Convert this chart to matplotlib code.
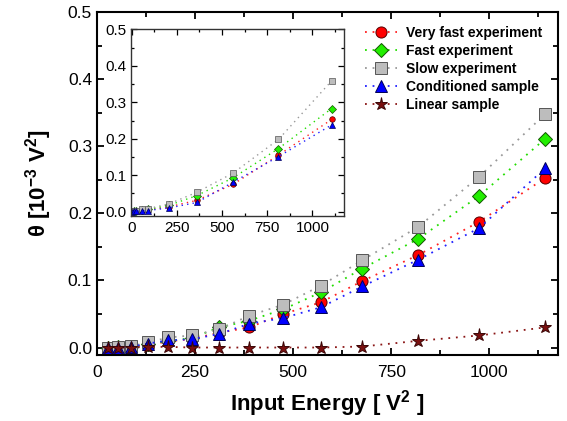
import matplotlib
matplotlib.use("Agg")
import matplotlib.pyplot as plt
from matplotlib.ticker import MultipleLocator

plt.rcParams['font.family'] = ['Liberation Sans', 'DejaVu Sans']
plt.rcParams['mathtext.fontset'] = 'custom'
plt.rcParams['mathtext.rm'] = 'Liberation Sans:bold'
plt.rcParams['mathtext.bf'] = 'Liberation Sans:bold'
plt.rcParams['mathtext.default'] = 'bf'

# ---- main data ----
energy = [27, 53, 87, 130, 182, 242, 311, 388, 475, 571, 676, 819, 974, 1142]
very_fast = [0, 0, 0.001, 0.004, 0.009, 0.013, 0.022, 0.030, 0.050, 0.0675, 0.099, 0.138, 0.1875, 0.2525]
fast = [0, 0.0005, 0.001, 0.005, 0.010, 0.014, 0.030, 0.040, 0.057, 0.0823, 0.1176, 0.162, 0.226, 0.311]
slow = [0, 0.001, 0.002, 0.0075, 0.015, 0.018, 0.027, 0.0475, 0.064, 0.0923, 0.130, 0.180, 0.2545, 0.348]
conditioned = [0, 0, 0.001, 0.006, 0.0105, 0.0125, 0.020, 0.0355, 0.044, 0.060, 0.091, 0.131, 0.178, 0.267]
linear = [0, 0, 0, 0.001, 0.001, 0, 0, 0, 0, 0, 0.0015, 0.010, 0.018, 0.030]

# ---- inset data ----
energy_in = [3, 12, 25, 56, 90, 206, 361, 562, 812, 1106]
very_fast_in = [0, 0.001, 0.002, 0.003, 0.004, 0.013, 0.031, 0.075, 0.155, 0.253]
fast_in = [0, 0.001, 0.002, 0.004, 0.006, 0.017, 0.044, 0.093, 0.173, 0.283]
slow_in = [0, 0.002, 0.003, 0.006, 0.008, 0.021, 0.053, 0.106, 0.198, 0.359]
conditioned_in = [0, 0.001, 0.001, 0.002, 0.003, 0.010, 0.025, 0.081, 0.151, 0.238]

labels = ["Very fast experiment", "Fast experiment", "Slow experiment",
          "Conditioned sample", "Linear sample"]

styles = [
    dict(marker='o', mfc='#ff0000', mec='#550000', color='#ff2020'),
    dict(marker='D', mfc='#22ee00', mec='#115500', color='#22dd00'),
    dict(marker='s', mfc='#bdbdbd', mec='#555555', color='#999999'),
    dict(marker='^', mfc='#0000ff', mec='#000055', color='#2020ff'),
    dict(marker='*', mfc='#7a0f0f', mec='#3a0505', color='#8a1515'),
]
msizes = [8, 7.5, 8, 9, 9.5]

fig = plt.figure(figsize=(5.67, 4.21), dpi=100)
ax = fig.add_axes([0.171, 0.157, 0.813, 0.814])

series = [very_fast, fast, slow, conditioned, linear]
for y, st, lab, ms in zip(series, styles, labels, msizes):
    ax.plot(energy, y, linestyle=(0, (1, 3.2)), linewidth=1.3, markersize=ms,
            markeredgewidth=0.7, label=lab, **st)

ax.set_xlim(0, 1175)
ax.set_ylim(-0.011, 0.5)
ax.xaxis.set_major_locator(MultipleLocator(250))
ax.xaxis.set_minor_locator(MultipleLocator(125))
ax.yaxis.set_major_locator(MultipleLocator(0.1))
ax.yaxis.set_minor_locator(MultipleLocator(0.05))
ax.yaxis.set_major_formatter(plt.FuncFormatter(lambda v, p: f"{v:.1f}"))
ax.tick_params(which='both', direction='in', top=True, right=True, labelsize=12.5, width=1.3)
ax.tick_params(which='major', length=5)
ax.tick_params(which='minor', length=3.5)
ax.tick_params(axis='x', pad=7)
for s in ax.spines.values():
    s.set_linewidth(1.5)

ax.set_xlabel("Input Energy [ V$^{2}$ ]", fontsize=16, fontweight='bold', labelpad=6)
ax.set_ylabel("θ [10$^{-3}$ V$^{2}$]", fontsize=16, fontweight='bold', labelpad=10)

leg = ax.legend(loc='upper left', bbox_to_anchor=(0.57, 0.975), frameon=False,
                prop=dict(size=10, weight='bold'), handlelength=2.3,
                handletextpad=0.6, labelspacing=0.28, borderaxespad=0)

# ---- inset ----
axi = fig.add_axes([0.231, 0.487, 0.375, 0.443])
series_in = [very_fast_in, fast_in, slow_in, conditioned_in]
for y, st in zip(series_in, styles[:4]):
    axi.plot(energy_in, y, linestyle=(0, (1, 3)), linewidth=1.0, markersize=4,
             markeredgewidth=0.5, **st)
axi.set_xlim(-3, 1172)
axi.set_ylim(-0.012, 0.5)
axi.xaxis.set_major_locator(MultipleLocator(250))
axi.xaxis.set_minor_locator(MultipleLocator(125))
axi.yaxis.set_major_locator(MultipleLocator(0.1))
axi.yaxis.set_minor_locator(MultipleLocator(0.05))
axi.yaxis.set_major_formatter(plt.FuncFormatter(lambda v, p: f"{v:.1f}"))
axi.tick_params(which='both', direction='in', top=True, right=True, labelsize=11, width=0.9)
axi.tick_params(which='major', length=4)
axi.tick_params(which='minor', length=2.5)
for s in axi.spines.values():
    s.set_linewidth(1.0)
    s.set_color('#333333')

fig.savefig("out.png", dpi=100)
